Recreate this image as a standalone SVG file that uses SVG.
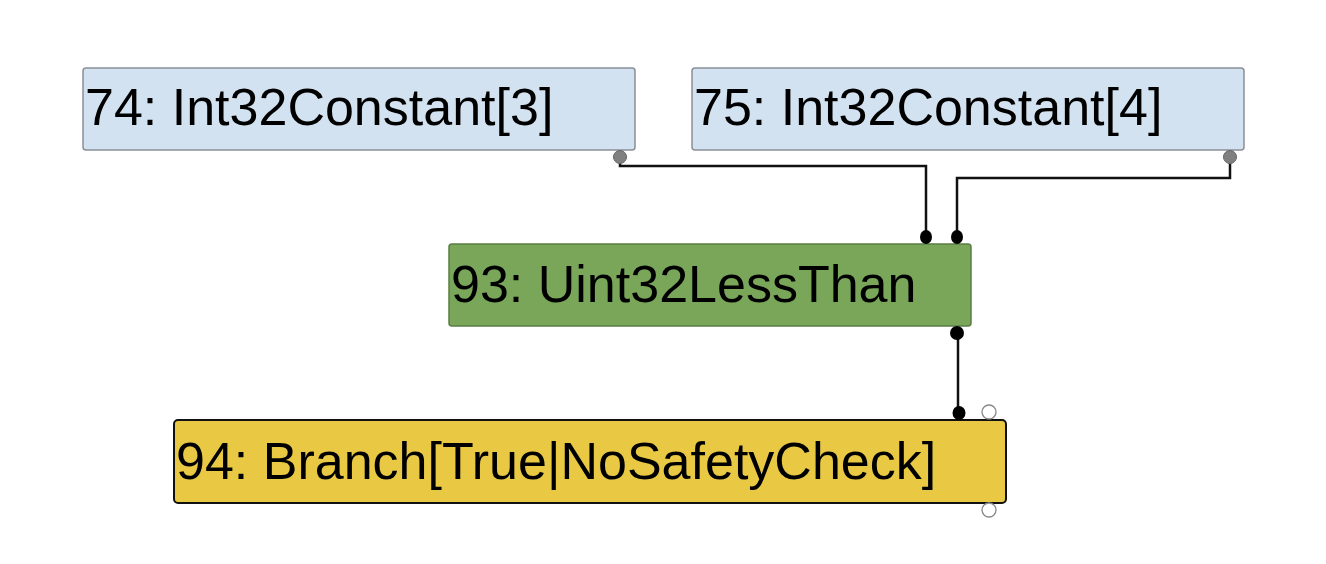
<svg xmlns="http://www.w3.org/2000/svg" width="1326" height="564" viewBox="0 0 1326 564">
<style>
.lbl{font-family:"Liberation Sans",Arial,sans-serif;font-size:52px;fill:#000}
.const{fill:#d3e2f1;stroke:#8a8f96;stroke-width:1.5}
.edge{fill:none;stroke:#111;stroke-width:2.5}
.in{fill:#000}
.outg{fill:#808080;stroke:#666;stroke-width:1}
.open{fill:#fff;stroke:#888;stroke-width:1.3}
</style>
<rect width="1326" height="564" fill="#fff"/>
<g id="connectors">
<path class="edge" d="M620 160 V166 H926 V234"/>
<path class="edge" d="M1230 160 V178 H957 V234"/>
<path class="edge" d="M958 336 V410"/>
</g>
<g id="n74">
<rect class="const" x="83" y="68" width="552" height="82" rx="3"/>
<text class="lbl" x="85" y="125">74: Int32Constant[3]</text>
<circle class="outg" cx="620" cy="157" r="6.5"/>
</g>
<g id="n75">
<rect class="const" x="692" y="68" width="552" height="82" rx="3"/>
<text class="lbl" x="694" y="125">75: Int32Constant[4]</text>
<circle class="outg" cx="1230" cy="157" r="6.5"/>
</g>
<g id="n93">
<rect x="449" y="244" width="522" height="82" rx="3" fill="#79a659" stroke="#5b7d44" stroke-width="1.5"/>
<text class="lbl" x="451" y="302">93: Uint32LessThan</text>
<ellipse class="in" cx="926" cy="237" rx="6" ry="7"/>
<ellipse class="in" cx="957" cy="237" rx="6" ry="7"/>
<circle class="in" cx="957" cy="333" r="7"/>
</g>
<g id="n94">
<rect x="174" y="420" width="832" height="83" rx="4" fill="#e9c944" stroke="#111" stroke-width="2"/>
<text class="lbl" x="176" y="479">94: Branch[True|NoSafetyCheck]</text>
<ellipse class="in" cx="959" cy="413" rx="6.5" ry="7"/>
<circle class="open" cx="989" cy="412" r="7"/>
<circle class="open" cx="989" cy="510" r="7"/>
</g>
</svg>
